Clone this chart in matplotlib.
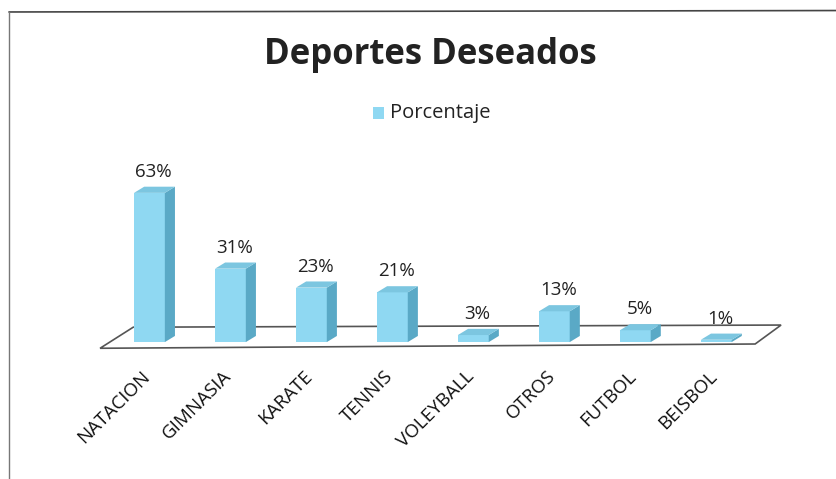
import matplotlib.pyplot as plt
from matplotlib.patches import Polygon, Rectangle
from matplotlib.lines import Line2D

deportes = ['NATACION', 'GIMNASIA', 'KARATE', 'TENNIS', 'VOLEYBALL', 'OTROS', 'FUTBOL', 'BEISBOL']
porcentaje = [63, 31, 23, 21, 3, 13, 5, 1]
etiquetas = ['63%', '31%', '23%', '21%', '3%', '13%', '5%', '1%']

plt.rcParams['font.family'] = ['Open Sans', 'DejaVu Sans']

front = '#8fd8f2'
side = '#5aa9c6'
top = '#7cc6e0'

fig = plt.figure(figsize=(8.37, 4.79), dpi=100)
ax = fig.add_axes([0.106, 0.266, 0.832, 0.366])
ax.set_xlim(-0.75, 7.85)
ax.set_ylim(-4, 70)
ax.axis('off')

w = 0.19      # half width of front face
dx = 0.125    # depth offset in x
dy = 2.6      # depth offset in y

# floor
floor = Polygon([(-0.61, -2.6), (-0.2, 6.3), (7.8, 7.2), (7.48, -0.8)],
                closed=True, facecolor='white', edgecolor='#555555', lw=1.2, zorder=1)
ax.add_patch(floor)

for i, v in enumerate(porcentaje):
    x0, x1 = i - w, i + w
    ax.add_patch(Rectangle((x0, 0), 2 * w, v, facecolor=front, edgecolor='none', zorder=3))
    ax.add_patch(Polygon([(x1, 0), (x1 + dx, dy), (x1 + dx, v + dy), (x1, v)],
                         facecolor=side, edgecolor='none', zorder=3))
    ax.add_patch(Polygon([(x0, v), (x0 + dx, v + dy), (x1 + dx, v + dy), (x1, v)],
                         facecolor=top, edgecolor='none', zorder=3))
    ax.text(i + 0.05, v + dy + 2.5, etiquetas[i], ha='center', va='bottom',
            fontsize=13.5, color='#222222')
    ax.text(i - 0.1, -10.5, deportes[i], rotation=45, rotation_mode='anchor',
            ha='right', va='top', fontsize=13.5, color='#111111', clip_on=False)

fig.text(0.514, 0.885, 'Deportes Deseados', ha='center', va='center',
         fontsize=25, fontweight='bold', color='#222222')
fig.patches.append(Rectangle((0.446, 0.752), 0.013, 0.025, transform=fig.transFigure,
                             facecolor=front, edgecolor='none'))
fig.text(0.466, 0.765, 'Porcentaje', ha='left', va='center', fontsize=14.5, color='#222222')

# chart frame (top and left edges visible in scan)
fig.add_artist(Line2D([0.011, 1.0], [0.975, 0.978], color='#444444', lw=1.2))
fig.add_artist(Line2D([0.011, 0.011], [0.975, 0.0], color='#777777', lw=1.0))

fig.savefig('out.png', dpi=100)
